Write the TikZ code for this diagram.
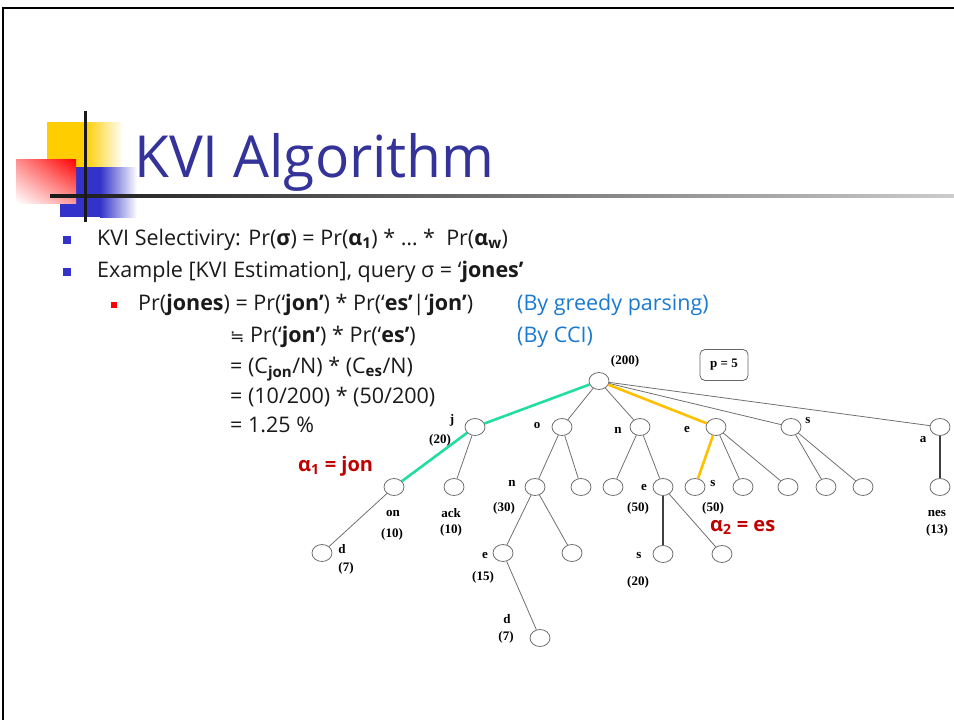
\documentclass[tikz,border=0pt]{standalone}
\usepackage{fontspec}
\setmainfont{Open Sans}
\newfontfamily\treefont{Liberation Serif}
\newfontfamily\symfont{DejaVu Sans}
\usetikzlibrary{shapes.geometric,shadings}
\definecolor{ttl}{HTML}{333399}
\definecolor{bul}{HTML}{3333CC}
\definecolor{note}{HTML}{1A7AD0}
\definecolor{hot}{HTML}{C00000}
\definecolor{grn}{HTML}{22DDA0}
\definecolor{ylw}{HTML}{FFC000}
\definecolor{edge}{HTML}{707070}
\definecolor{ink}{HTML}{1A1A1A}
\tikzset{
  txt/.style={anchor=base west, inner sep=0pt, text=ink, font=\fontsize{21.5}{25}\selectfont},
  cmt/.style={txt, text=note},
  hl/.style={anchor=base west, inner sep=0pt, text=hot, font=\fontsize{20}{24}\selectfont\bfseries},
  leaf/.style={draw=edge, ellipse, line width=0.8pt, minimum width=20pt, minimum height=17pt, inner sep=0pt, fill=white},
  lbl/.style={inner sep=0pt, font=\treefont\bfseries\fontsize{13}{14}\selectfont},
  link/.style={draw=edge, line width=0.8pt},
  dark/.style={draw=black!75, line width=1.3pt},
  grnpath/.style={draw=grn, line width=2.6pt},
  ylwpath/.style={draw=ylw, line width=2.6pt},
}

\begin{document}
\begin{tikzpicture}[x=1pt,y=-1pt]
  \useasboundingbox (0,0) rectangle (954,720);
  % slide frame
  \draw[line width=2pt] (3,720) -- (3,8) -- (954,8);

  % title decoration
  \fill[ylw!80!yellow] (47,122) rectangle (85,167);
  \shade[left color=ylw!80!yellow, right color=white] (85,122) rectangle (123,167);
  \fill[bul] (60,167) rectangle (100,217);
  \shade[left color=bul, right color=white] (100,167) rectangle (137,217);
  \shade[upper left=red!45, upper right=red, lower left=white, lower right=red!40] (16,159) rectangle (76,203);
  \shade[left color=black!90, right color=black!20] (50,194.5) rectangle (954,197.5);
  \fill[black!90] (83.5,111) rectangle (86.5,222);
  \node[anchor=base west, inner sep=0pt, text=ttl, font=\fontsize{58}{64}\selectfont] (title) at (134,177) {\scalebox{0.98}[1]{KVI Algorithm}};

  % bullets
  \fill[bul] (63,236) rectangle (71,244);
  \fill[bul] (63,268) rectangle (71,276);
  \fill[red] (111,302) rectangle (117,308);
  \node[txt] (l1) at (97,245) {KVI Selectiviry: Pr(\textbf{σ}) = Pr(\textbf{α\textsubscript{1}}) * … *~~Pr(\textbf{α\textsubscript{w}})};
  \node[txt] (l2) at (97,277) {Example [KVI Estimation], query σ = ‘\textbf{jones’}};
  \node[txt] (l3) at (138,310) {Pr(\textbf{jones}) = Pr(‘\textbf{jon’}) * Pr(‘\textbf{es’}|‘\textbf{jon’})};
  \node[cmt] (c3) at (517,310) {(By greedy parsing)};
  \node[txt] (l4) at (230,342) {{\symfont\fontsize{17}{20}\selectfont ≒} Pr(‘\textbf{jon’}) * Pr(‘\textbf{es’})};
  \node[cmt] (c4) at (517,342) {(By CCI)};
  \node[txt] (l5) at (230,373) {= (C\textsubscript{\textbf{jon}}/N) * (C\textsubscript{\textbf{es}}/N)};
  \node[txt] (l6) at (230,403) {= (10/200) * (50/200)};
  \node[txt] (l7) at (230,432) {= 1.25 \%};

  % tree
  \node[draw=black!60, rounded corners=5pt, line width=0.8pt, minimum width=48pt, minimum height=31pt, lbl] (pbox) at (724,365) {p = 5};
  \node[leaf] (r) at (599,381) {};
  \node[leaf] (j) at (475,427) {};
  \node[leaf] (o) at (562,427) {};
  \node[leaf] (n) at (640,427) {};
  \node[leaf] (e) at (716,427) {};
  \node[leaf] (s) at (791,427) {};
  \node[leaf] (a) at (940,427) {};
  \node[leaf] (jon) at (394,487) {};
  \node[leaf] (jack) at (454,487) {};
  \node[leaf] (on) at (535,487) {};
  \node[leaf] (ox) at (581,487) {};
  \node[leaf] (nx) at (613,487) {};
  \node[leaf] (ne) at (663,487) {};
  \node[leaf] (es) at (695,487) {};
  \node[leaf] (ex1) at (743,487) {};
  \node[leaf] (ex2) at (788,487) {};
  \node[leaf] (sx1) at (826,487) {};
  \node[leaf] (sx2) at (863,487) {};
  \node[leaf] (anes) at (940,487) {};
  \node[leaf] (jond) at (322,553) {};
  \node[leaf] (one) at (503,553) {};
  \node[leaf] (onx) at (572,553) {};
  \node[leaf] (nes) at (663,554) {};
  \node[leaf] (nex) at (722,554) {};
  \node[leaf] (oned) at (540,638) {};

  \foreach \u/\v in {r/j,r/o,r/n,r/e,r/s,r/a,j/jon,j/jack,o/on,o/ox,n/nx,n/ne,
                     e/es,e/ex1,e/ex2,s/sx1,s/sx2,jon/jond,on/one,on/onx,ne/nex,one/oned}
    \draw[link] (\u) -- (\v);
  \draw[dark] (a) -- (anes);
  \draw[dark] (ne) -- (nes);
  \draw[grnpath] (r) -- (j);
  \draw[grnpath] (j) -- (jon);
  \draw[ylwpath] (r) -- (e);
  \draw[ylwpath] (e) -- (es);

  \node[lbl] (t200) at (625,361) {(200)};
  \node[lbl] (tj) at (452,420) {j};
  \node[lbl] (tj20) at (440,440) {(20)};
  \node[lbl] (to) at (537,425) {o};
  \node[lbl] (tn) at (618,430) {n};
  \node[lbl] (te) at (687,430) {e};
  \node[lbl] (ts) at (808,420) {s};
  \node[lbl] (ta) at (923,440) {a};
  \node[lbl] (ton) at (393,513) {on};
  \node[lbl] (ton10) at (392,534) {(10)};
  \node[lbl] (tack) at (451,513) {ack};
  \node[lbl] (tack10) at (451,530) {(10)};
  \node[lbl] (tn2) at (512,483) {n};
  \node[lbl] (tn30) at (504,508) {(30)};
  \node[lbl] (te2) at (644,487) {e};
  \node[lbl] (te50) at (638,508) {(50)};
  \node[lbl] (ts2) at (713,483) {s};
  \node[lbl] (ts50) at (713,508) {(50)};
  \node[lbl] (tnes) at (937,513) {nes};
  \node[lbl] (tnes13) at (937,530) {(13)};
  \node[lbl] (td) at (342,549) {d};
  \node[lbl] (td7) at (346,568) {(7)};
  \node[lbl] (te3) at (485,555) {e};
  \node[lbl] (te15) at (483,577) {(15)};
  \node[lbl] (ts3) at (639,555) {s};
  \node[lbl] (ts20) at (638,582) {(20)};
  \node[lbl] (td2) at (507,619) {d};
  \node[lbl] (td27) at (506,637) {(7)};

  \node[hl] (a1) at (298,471) {α\textsubscript{1} = jon};
  \node[hl] (a2) at (710,531) {α\textsubscript{2} = es};
\end{tikzpicture}
\end{document}
